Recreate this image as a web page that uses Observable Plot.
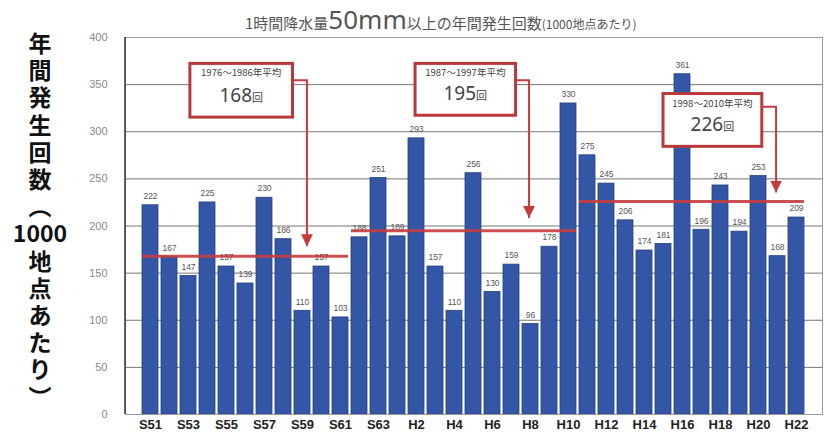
<!DOCTYPE html>
<html><head><meta charset="utf-8">
<script src="https://cdn.jsdelivr.net/npm/d3@7"></script>
<script src="https://cdn.jsdelivr.net/npm/@observablehq/plot@0.6"></script>
<style>
body{margin:0;background:#fff;font-family:"Noto Sans CJK JP","Noto Sans",sans-serif;}
#wrap{position:relative;width:827px;height:436px;overflow:hidden;}
#title{position:absolute;top:8px;left:245px;white-space:nowrap;color:#555;line-height:22px;}
#title .big{font-family:"Noto Sans",sans-serif;font-size:26px;}
#ytitle{position:absolute;left:10px;top:29px;width:60px;text-align:center;font-weight:bold;font-size:23px;line-height:27.2px;color:#111;white-space:pre-line;}
</style></head>
<body>
<div id="wrap">
  <div id="title"><span style="font-size:15px">1時間降水量</span><span class="big">50mm</span><span style="font-size:15px">以上の年間発生回数</span><span style="font-size:12px">(1000地点あたり)</span></div>
  <div id="ytitle"></div>
  <div id="chart"></div>
</div>
<script>
// ---- data ----
const years = ["S51","S52","S53","S54","S55","S56","S57","S58","S59","S60","S61","S62","S63",
  "H1","H2","H3","H4","H5","H6","H7","H8","H9","H10","H11","H12","H13","H14","H15","H16","H17","H18","H19","H20","H21","H22"];
const counts = [222,167,147,225,157,139,230,186,110,157,103,188,251,
  189,293,157,110,256,130,159,96,178,330,275,245,206,174,181,361,196,243,194,253,168,209];
const yTicks = [0,50,100,150,200,250,300,350,400];
const periodLabels = ["1976～1986年平均","1987～1997年平均","1998～2010年平均"];
const periodAvgs = [168,195,226];
const periodFrom = ["S51","S62","H11"];
const periodTo = ["S61","H10","H22"];
const yTitleLines = ["年","間","発","生","回","数","︵","1000","地","点","あ","た","り","︶"];

// ---- layout for annotation boxes (slot index units / value units) ----
const boxLayout = [
  {x0:2.1, x1:7.5, yTop:372, yBot:315, ax:8.26, ay:354, tip:178},
  {x0:13.95, x1:19.24, yTop:372, yBot:317, ax:19.95, ay:354, tip:208},
  {x0:27.0, x1:32.2, yTop:340, yBot:284, ax:32.95, ay:326, tip:235}
];

document.getElementById("ytitle").textContent = yTitleLines.join("\n");

const data = years.map((y, i) => ({year: y, count: counts[i]}));
const periods = periodLabels.map((p, i) => ({label: p, avg: periodAvgs[i], from: periodFrom[i], to: periodTo[i]}));

const blue = "#3456a6", red = "#c63c3e";

const plot = Plot.plot({
  width: 827, height: 436,
  marginLeft: 125, marginRight: 5, marginTop: 37, marginBottom: 22,
  style: {fontFamily: "'Liberation Sans', Arial, sans-serif", background: "transparent", overflow: "visible"},
  x: {domain: years, padding: 0.14, label: null},
  y: {domain: [0, 400], label: null},
  marks: [
    Plot.ruleY(yTicks, {stroke: "#777", strokeWidth: 1}),
    Plot.barY(data, {x: "year", y: "count", fill: blue, stroke: "#26427f", strokeWidth: 0.8}),
    Plot.text(data, {x: "year", y: "count", text: d => String(d.count), dy: -9, fontSize: 8.5, fill: "#555"}),
    Plot.ruleY(periods, {x1: "from", x2: "to", y: "avg", stroke: red, strokeWidth: 3, strokeOpacity: 0.9}),
    Plot.frame({stroke: "#999"}),
    Plot.axisY(yTicks, {tickSize: 0, tickPadding: 18, fontSize: 11, fill: "#888"}),
    Plot.axisX({tickSize: 0, tickPadding: 5, fontSize: 13, fontWeight: "bold", fill: "#222",
      tickFormat: (d) => years.indexOf(d) % 2 === 0 ? d : ""})
  ]
});
document.getElementById("chart").appendChild(plot);

// ---- annotations, placed through the plot's scales ----
const xs = plot.scale("x"), ys = plot.scale("y");
const step = xs.apply(years[1]) - xs.apply(years[0]);
const bw = xs.bandwidth != null ? xs.bandwidth : step * 0.86;
const cx = f => { const i = Math.floor(f); return xs.apply(years[i]) + bw / 2 + (f - i) * step; };
const py = v => ys.apply(v);

const svg = d3.select(plot);
svg.append("line").attr("x1", 125).attr("x2", 125).attr("y1", py(400)).attr("y2", py(0))
  .attr("stroke", "#333").attr("stroke-width", 1.5);

const defs = svg.append("defs");
defs.append("marker").attr("id", "ah").attr("viewBox", "0 0 10 10").attr("refX", 10).attr("refY", 5)
  .attr("markerWidth", 6).attr("markerHeight", 6).attr("orient", "auto")
  .append("path").attr("d", "M0,0L10,5L0,10z").attr("fill", red);

const g = svg.append("g");
boxLayout.forEach((b, i) => {
  const x0 = cx(b.x0), x1 = cx(b.x1), y0 = py(b.yTop), y1 = py(b.yBot);
  const ax = cx(b.ax), ay = py(b.ay), tip = py(b.tip);
  g.append("path").attr("d", `M${x1},${ay}H${ax}V${tip}`).attr("fill", "none")
    .attr("stroke", red).attr("stroke-width", 2).attr("marker-end", "url(#ah)");
  g.append("rect").attr("x", x0).attr("y", y0).attr("width", x1 - x0).attr("height", y1 - y0)
    .attr("fill", "#fff").attr("stroke", "#b8383b").attr("stroke-width", 3);
  const mx = (x0 + x1) / 2, h = y1 - y0;
  g.append("text").attr("x", mx).attr("y", y0 + 13).attr("text-anchor", "middle")
    .attr("font-size", 9.5).attr("fill", "#444").attr("font-family", "Noto Sans CJK JP, sans-serif")
    .text(periods[i].label);
  const t = g.append("text").attr("x", mx).attr("y", y0 + h * 0.58 + 7).attr("text-anchor", "middle")
    .attr("fill", "#444").attr("font-family", "Noto Sans, Noto Sans CJK JP, sans-serif");
  t.append("tspan").attr("font-size", 19).text(String(periods[i].avg));
  t.append("tspan").attr("font-size", 11).attr("font-family", "Noto Sans CJK JP, sans-serif").text("回");
});
</script>
</body></html>
